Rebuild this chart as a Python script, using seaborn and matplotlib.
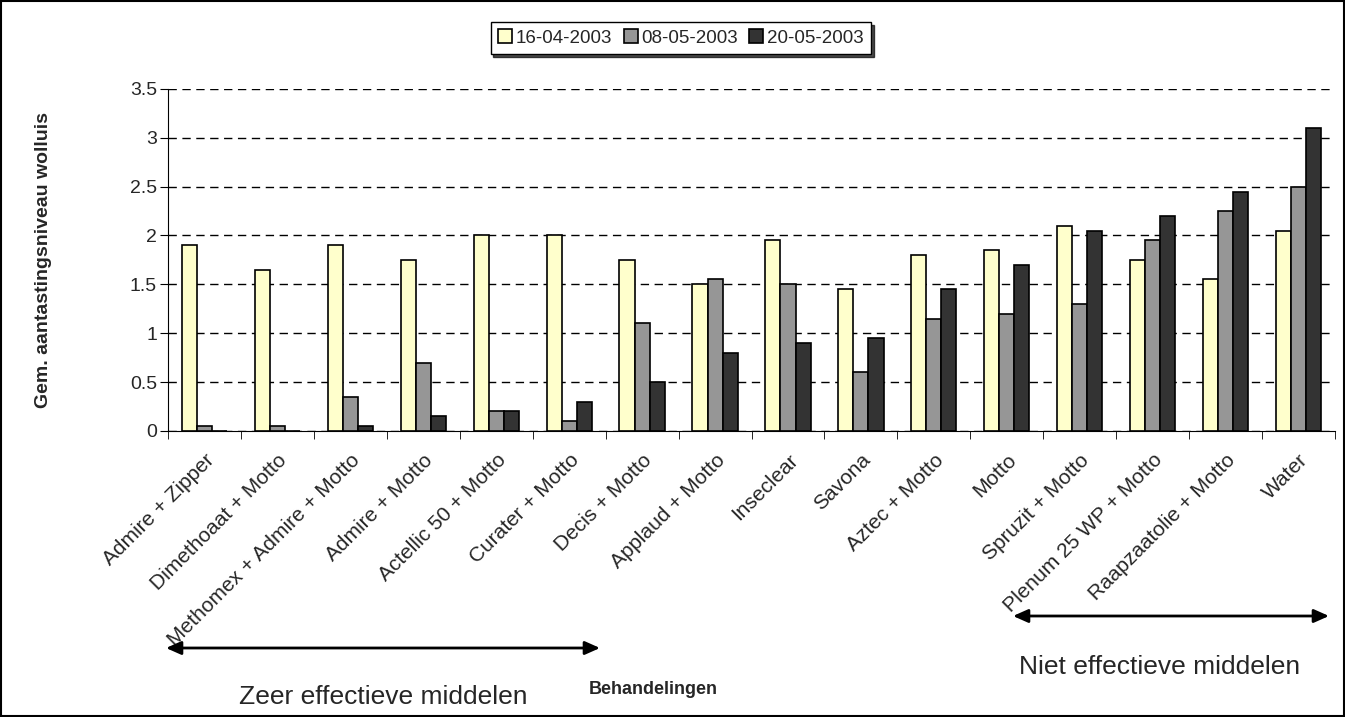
import pandas as pd
import seaborn as sns
import matplotlib.pyplot as plt
from matplotlib.patches import Rectangle

behandelingen = ["Admire + Zipper", "Dimethoaat + Motto", "Methomex + Admire + Motto",
                 "Admire + Motto", "Actellic 50 + Motto", "Curater + Motto", "Decis + Motto",
                 "Applaud + Motto", "Inseclear", "Savona", "Aztec + Motto", "Motto",
                 "Spruzit + Motto", "Plenum 25 WP + Motto", "Raapzaatolie + Motto", "Water"]
datums = ["16-04-2003", "08-05-2003", "20-05-2003"]
w_16_04 = [1.9, 1.65, 1.9, 1.75, 2.0, 2.0, 1.75, 1.5, 1.95, 1.45, 1.8, 1.85, 2.1, 1.75, 1.55, 2.05]
w_08_05 = [0.05, 0.05, 0.35, 0.7, 0.2, 0.1, 1.1, 1.55, 1.5, 0.6, 1.15, 1.2, 1.3, 1.95, 2.25, 2.5]
w_20_05 = [0.0, 0.0, 0.05, 0.15, 0.2, 0.3, 0.5, 0.8, 0.9, 0.95, 1.45, 1.7, 2.05, 2.2, 2.45, 3.1]
kleuren = ["#FFFFCC", "#969696", "#333333"]

rows = []
for d, vals in zip(datums, [w_16_04, w_08_05, w_20_05]):
    for b, v in zip(behandelingen, vals):
        rows.append({"Behandeling": b, "Datum": d, "Waarde": v})
df = pd.DataFrame(rows)

sns.set_style("white")
plt.rcParams["font.family"] = ["Liberation Sans", "DejaVu Sans"]

fig = plt.figure(figsize=(13.45, 7.17), dpi=100)
ax = fig.add_axes([0.1249, 0.399, 0.8677, 0.477])
sns.barplot(data=df, x="Behandeling", y="Waarde", hue="Datum", order=behandelingen,
            hue_order=datums, palette=kleuren, width=0.62, edgecolor="black",
            linewidth=1.2, saturation=1, ax=ax)

ax.set_ylim(0, 3.5)
ax.set_xlim(-0.5, len(behandelingen) - 0.5)
ax.set_yticks([0, 0.5, 1, 1.5, 2, 2.5, 3, 3.5])
ax.set_yticklabels(["0", "0.5", "1", "1.5", "2", "2.5", "3", "3.5"], fontsize=14)
ax.yaxis.grid(True, linestyle=(0, (6, 4)), color="black", linewidth=1)
ax.set_axisbelow(True)
for s in ["top", "right"]:
    ax.spines[s].set_visible(False)
ax.spines["left"].set_color("black")
ax.spines["bottom"].set_color("black")
ax.tick_params(axis="y", left=True, length=6, color="black", pad=2)

ax.set_xticks(range(len(behandelingen)))
ax.set_xticklabels(behandelingen, rotation=45, ha="right", rotation_mode="anchor", fontsize=15)
ax.tick_params(axis="x", which="major", length=0, pad=14)
ax.set_xticks([i - 0.5 for i in range(len(behandelingen) + 1)], minor=True)
ax.tick_params(axis="x", which="minor", bottom=True, length=6, color="black")

ax.set_xlabel("")
ax.set_ylabel("Gem. aantastingsniveau wolluis", fontsize=14, fontweight="bold")
ax.yaxis.set_label_coords((52 - 168) / 1167, 0.5)

ax.legend(loc="center", bbox_to_anchor=(681 / 1345, 1 - 38 / 717), bbox_transform=fig.transFigure,
          ncol=3, fontsize=13.5, frameon=True, fancybox=False,
          shadow={"color": "black", "alpha": 0.7}, edgecolor="black",
          handlelength=0.75, handleheight=0.75, handletextpad=0.2, columnspacing=0.6,
          borderpad=0.4, borderaxespad=0)

fig.text(653 / 1345, 1 - 690 / 717, "Behandelingen", ha="center", va="center",
         fontsize=13, fontweight="bold")

ax.annotate("", xy=(166 / 1345, 1 - 648 / 717), xytext=(600 / 1345, 1 - 648 / 717),
            xycoords="figure fraction", textcoords="figure fraction",
            arrowprops=dict(arrowstyle="<|-|>,head_length=0.9,head_width=0.4",
                            color="black", lw=2, shrinkA=0, shrinkB=0))
ax.annotate("", xy=(1013 / 1345, 1 - 616 / 717), xytext=(1329 / 1345, 1 - 616 / 717),
            xycoords="figure fraction", textcoords="figure fraction",
            arrowprops=dict(arrowstyle="<|-|>,head_length=0.9,head_width=0.4",
                            color="black", lw=2, shrinkA=0, shrinkB=0))
fig.text(383 / 1345, 1 - 697 / 717, "Zeer effectieve middelen", ha="center", va="center",
         fontsize=19)
fig.text(1160 / 1345, 1 - 667 / 717, "Niet effectieve middelen", ha="center", va="center",
         fontsize=19)

fig.patches.append(Rectangle((0.001, 0.001), 0.998, 0.997, transform=fig.transFigure,
                             fill=False, edgecolor="black", linewidth=1.5))

plt.savefig("out.png", dpi=100)
